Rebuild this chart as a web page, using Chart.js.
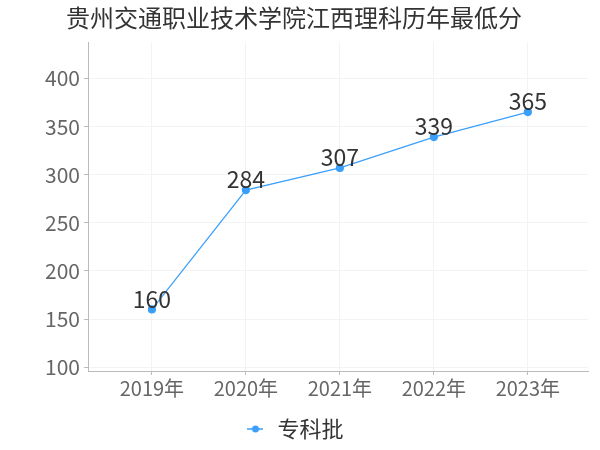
<!DOCTYPE html>
<html>
<head>
<meta charset="utf-8">
<script src="https://cdn.jsdelivr.net/npm/chart.js@4.4.0/dist/chart.umd.min.js"></script>
<style>
  html, body { margin: 0; padding: 0; background: #fff; }
  #wrap { width: 600px; height: 450px; }
</style>
</head>
<body>
<div id="wrap"><canvas id="chart"></canvas></div>
<script>
// data
const years = ['2019年', '2020年', '2021年', '2022年', '2023年'];
const scores = [160, 284, 307, 339, 365];
const seriesName = '专科批';
const yTicks = [100, 150, 200, 250, 300, 350, 400];

const lineColor = '#3a9ffb';
const fontFamily = '"Noto Sans CJK SC", "DejaVu Sans", sans-serif';

// legend icon: short line with a dot
const legendIcon = document.createElement('canvas');
legendIcon.width = 16;
legendIcon.height = 10;
const g = legendIcon.getContext('2d');
g.strokeStyle = lineColor;
g.lineWidth = 1.5;
g.beginPath(); g.moveTo(0, 5); g.lineTo(16, 5); g.stroke();
g.fillStyle = lineColor;
g.beginPath(); g.arc(8, 5, 3.5, 0, Math.PI * 2); g.fill();

// value labels above points
const valueLabels = {
    id: 'valueLabels',
    afterDatasetsDraw(chart) {
        const ctx = chart.ctx;
        const meta = chart.getDatasetMeta(0);
        ctx.save();
        ctx.font = '23px ' + fontFamily;
        ctx.fillStyle = '#333';
        ctx.textAlign = 'center';
        ctx.textBaseline = 'bottom';
        meta.data.forEach((pt, i) => {
            ctx.fillText(String(scores[i]), pt.x, pt.y + 1);
        });
        ctx.restore();
    }
};

const ctx = document.getElementById('chart').getContext('2d');
const chart = new Chart(ctx, {
    type: 'line',
    data: {
        datasets: [{
            label: seriesName,
            data: scores.map((v, i) => ({ x: i, y: v })),
            borderColor: lineColor,
            backgroundColor: lineColor,
            borderWidth: 1.2,
            pointRadius: 3.5,
            pointHoverRadius: 3.5,
            tension: 0
        }]
    },
    options: {
        responsive: true,
        maintainAspectRatio: false,
        animation: false,
        layout: {
            padding: { left: 0, right: 12, top: 0, bottom: 0 }
        },
        plugins: {
            title: {
                display: true,
                text: '贵州交通职业技术学院江西理科历年最低分',
                color: '#333',
                font: { size: 24, family: fontFamily, weight: 'normal' },
                padding: { top: 3, bottom: 11 }
            },
            legend: {
                position: 'bottom',
                labels: {
                    usePointStyle: true,
                    pointStyle: legendIcon,
                    color: '#333',
                    font: { size: 22, family: fontFamily },
                    padding: 10
                }
            },
            tooltip: { enabled: false }
        },
        scales: {
            x: {
                type: 'linear',
                min: -0.68,
                max: 4.64,
                afterBuildTicks: s => { s.ticks = years.map((_, i) => ({ value: i })); },
                afterFit: s => { s.height = 37; },
                ticks: {
                    callback: v => years[v],
                    color: '#666',
                    font: { size: 20, family: fontFamily },
                    padding: 1,
                    maxRotation: 0
                },
                grid: {
                    color: '#f3f3f3',
                    tickColor: '#bbb',
                    tickLength: 4
                },
                border: { color: '#bbb' }
            },
            y: {
                min: 96,
                max: 437,
                afterBuildTicks: s => { s.ticks = yTicks.map(v => ({ value: v })); },
                afterFit: s => { s.width = 88; },
                ticks: {
                    color: '#666',
                    font: { size: 21, family: fontFamily },
                    padding: 4
                },
                grid: {
                    color: '#f3f3f3',
                    tickColor: '#bbb',
                    tickLength: 4
                },
                border: { color: '#bbb' }
            }
        }
    },
    plugins: [valueLabels]
});
</script>
</body>
</html>
